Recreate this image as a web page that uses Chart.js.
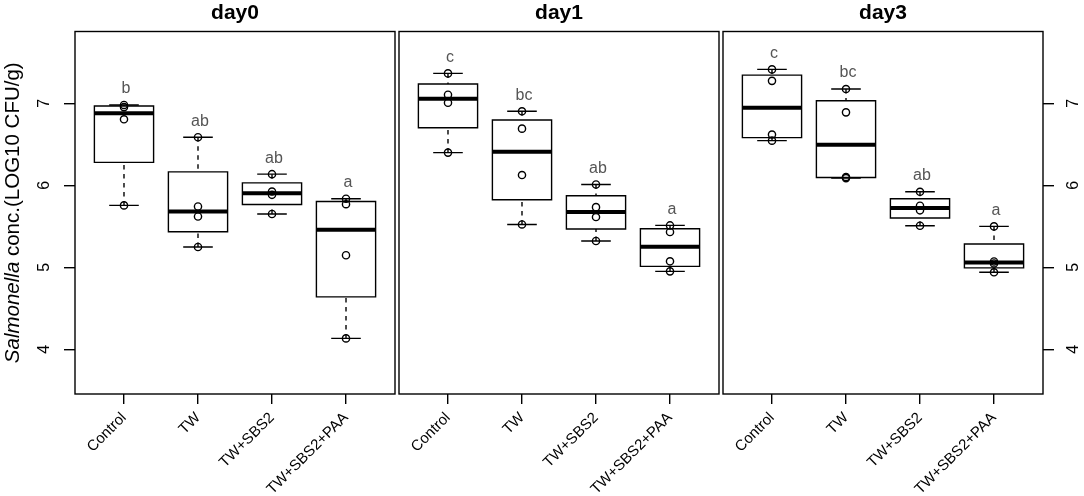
<!DOCTYPE html>
<html>
<head>
<meta charset="utf-8">
<script src="https://cdn.jsdelivr.net/npm/chart.js@4.4.1/dist/chart.umd.min.js"></script>
<style>
  html, body { margin: 0; padding: 0; background: #fff; }
  #wrap { position: relative; width: 1084px; height: 496px; }
  #wrap canvas { position: absolute; left: 0; top: 0; }
</style>
</head>
<body>
<div id="wrap">
  <canvas id="c0" width="1084" height="496"></canvas>
  <canvas id="c1" width="1084" height="496"></canvas>
  <canvas id="c2" width="1084" height="496"></canvas>
</div>
<script>
// data: 4 replicates per group, log10 CFU/g
const groups = ["Control", "TW", "TW+SBS2", "TW+SBS2+PAA"];
const days = ["day0", "day1", "day3"];
const yTicks = [4, 5, 6, 7];

const day0 = [
    [5.755, 6.805, 6.954, 6.98],
    [5.248, 5.62, 5.742, 6.586],
    [5.65, 5.884, 5.924, 6.136],
    [4.133, 5.147, 5.77, 5.836]
];
const day1 = [
    [6.399, 7.007, 7.105, 7.365],
    [5.523, 6.125, 6.691, 6.903],
    [5.321, 5.613, 5.734, 6.01],
    [4.951, 5.073, 5.431, 5.511]
];
const day3 = [
    [6.545, 6.619, 7.274, 7.414],
    [6.088, 6.102, 6.89, 7.174],
    [5.507, 5.695, 5.751, 5.921],
    [4.939, 5.047, 5.071, 5.499]
];

const day0Letters = ["b", "ab", "ab", "a"];
const day1Letters = ["c", "bc", "ab", "a"];
const day3Letters = ["c", "bc", "ab", "a"];

const FONT = '"Liberation Sans", Arial, Helvetica, sans-serif';
const W = 1084, H = 496;
const panelLeft = [75, 399, 723];
const panelWidth = 320;
const panelTop = 31.5, panelBottom = 394;

// same hinges as R's boxplot (fivenum)
function fivenum(vals){
    const s = vals.slice().sort((a, b) => a - b);
    const n = s.length;
    const n4 = Math.floor((n + 3) / 2) / 2;
    const d = [1, n4, (n + 1) / 2, n + 1 - n4, n];
    return d.map(k => 0.5 * (s[Math.floor(k) - 1] + s[Math.ceil(k) - 1]));
}

function boxStats(vals){
    const f = fivenum(vals);
    const iqr = f[3] - f[1];
    const inside = vals.filter(v => v >= f[1] - 1.5 * iqr && v <= f[3] + 1.5 * iqr);
    return { lo: Math.min(...inside), q1: f[1], med: f[2], q3: f[3], hi: Math.max(...inside) };
}

const gap = x => ({ x: x, y: null });

function buildDatasets(dayData){

    const stats = dayData.map(boxStats);
    let points = [], medians = [], boxes = [], caps = [], whiskers = [];

    stats.forEach((s, i) => {
        const x = i + 1;
        dayData[i].forEach(v => points.push({ x: x, y: v }));
        medians.push({ x: x - 0.4, y: s.med }, { x: x + 0.4, y: s.med }, gap(x));
        boxes.push({ x: x, y: s.q1 }, { x: x + 0.4, y: s.q1 }, { x: x + 0.4, y: s.q3 },
                   { x: x - 0.4, y: s.q3 }, { x: x - 0.4, y: s.q1 }, { x: x, y: s.q1 }, gap(x));
        caps.push({ x: x - 0.2, y: s.lo }, { x: x + 0.2, y: s.lo }, gap(x),
                  { x: x - 0.2, y: s.hi }, { x: x + 0.2, y: s.hi }, gap(x));
        whiskers.push({ x: x, y: s.lo }, { x: x, y: s.q1 }, gap(x),
                      { x: x, y: s.hi }, { x: x, y: s.q3 }, gap(x));
    });

    const line = { showLine: true, borderColor: "#000", borderWidth: 1.4, pointRadius: 0, spanGaps: false, fill: false };

    // first dataset is drawn last (on top)
    return {
        stats: stats,
        datasets: [
            { data: points, pointStyle: "circle", pointRadius: 3.6, pointBorderWidth: 1.4,
              pointBorderColor: "#000", pointBackgroundColor: "rgba(0,0,0,0)" },
            Object.assign({ data: medians }, line, { borderWidth: 4 }),
            Object.assign({ data: boxes }, line),
            Object.assign({ data: caps }, line),
            Object.assign({ data: whiskers }, line, { borderDash: [4.5, 4.5] })
        ]
    };
}

const panelText = {
    id: "panelText",
    afterDraw(chart, args, opts){

        const { ctx, chartArea: a } = chart;
        const x = chart.scales.x, y = chart.scales.y;

        ctx.save();

        // frame
        ctx.strokeStyle = "#000";
        ctx.lineWidth = 1.4;
        ctx.strokeRect(a.left, a.top, a.right - a.left, a.bottom - a.top);

        // panel title
        ctx.fillStyle = "#000";
        ctx.font = "bold 21px " + FONT;
        ctx.textAlign = "center";
        ctx.textBaseline = "alphabetic";
        ctx.fillText(opts.title, (a.left + a.right) / 2, 19);

        // group letters above the upper whisker
        ctx.font = "16px " + FONT;
        ctx.fillStyle = "#555";
        ctx.textBaseline = "middle";
        opts.stats.forEach((s, i) => {
            ctx.fillText(opts.letters[i], x.getPixelForValue(i + 1) + 2, y.getPixelForValue(s.hi) - 16);
        });

        // y tick labels, parallel to the axis
        if(opts.tickSide){
            ctx.fillStyle = "#000";
            ctx.font = "16px " + FONT;
            const tx = opts.tickSide === "left" ? a.left - 30 : a.right + 31;
            yTicks.forEach(v => {
                ctx.save();
                ctx.translate(tx, y.getPixelForValue(v));
                ctx.rotate(-Math.PI / 2);
                ctx.fillText(String(v), 0, 0);
                ctx.restore();
            });
        }

        // y axis title, genus in italics
        if(opts.yTitle){
            const p1 = "Salmonella", p2 = " conc.(LOG10 CFU/g)";
            const fIt = "italic 20.5px " + FONT, fUp = "20.5px " + FONT;
            ctx.font = fIt; const w1 = ctx.measureText(p1).width;
            ctx.font = fUp; const w2 = ctx.measureText(p2).width;
            ctx.save();
            ctx.translate(13, (a.top + a.bottom) / 2);
            ctx.rotate(-Math.PI / 2);
            ctx.fillStyle = "#000";
            ctx.textAlign = "left";
            ctx.textBaseline = "middle";
            ctx.font = fIt; ctx.fillText(p1, -(w1 + w2) / 2, 0);
            ctx.font = fUp; ctx.fillText(p2, -(w1 + w2) / 2 + w1, 0);
            ctx.restore();
        }

        ctx.restore();
    }
};

function makePanel(idx, dayData, letters){

    const built = buildDatasets(dayData);
    const left = panelLeft[idx];
    const ySide = idx === 0 ? "left" : (idx === 2 ? "right" : null);

    new Chart(document.getElementById("c" + idx), {
        type: "scatter",
        data: { datasets: built.datasets },
        options: {
            responsive: false,
            animation: false,
            events: [],
            layout: {
                padding: { left: left, right: W - left - panelWidth, top: panelTop, bottom: 0 }
            },
            scales: {
                x: {
                    type: "linear",
                    min: 0.338,
                    max: 4.662,
                    afterBuildTicks: axis => { axis.ticks = groups.map((g, i) => ({ value: i + 1 })); },
                    // the axis box takes the whole strip under the panel so labels are not clipped
                    afterFit: axis => { axis.height = H - panelBottom; },
                    border: { display: false },
                    grid: { drawOnChartArea: false, drawTicks: true, tickLength: 10, color: "#000", lineWidth: 1.4 },
                    ticks: {
                        autoSkip: false,
                        minRotation: 45,
                        maxRotation: 45,
                        padding: 5,
                        color: "#000",
                        font: { family: FONT, size: 15 },
                        callback: v => groups[v - 1]
                    }
                },
                y: {
                    type: "linear",
                    display: ySide !== null,
                    position: ySide || "left",
                    min: 3.455,
                    max: 7.876,
                    afterBuildTicks: axis => { axis.ticks = yTicks.map(v => ({ value: v })); },
                    afterFit: axis => { axis.width = 0; },
                    border: { display: false },
                    grid: { drawOnChartArea: false, drawTicks: true, tickLength: 11, color: "#000", lineWidth: 1.4 },
                    ticks: { display: false }
                }
            },
            plugins: {
                legend: { display: false },
                tooltip: { enabled: false },
                panelText: {
                    title: days[idx],
                    letters: letters,
                    stats: built.stats,
                    tickSide: ySide,
                    yTitle: idx === 0
                }
            }
        },
        plugins: [panelText]
    });
}

makePanel(0, day0, day0Letters);
makePanel(1, day1, day1Letters);
makePanel(2, day3, day3Letters);
</script>
</body>
</html>
